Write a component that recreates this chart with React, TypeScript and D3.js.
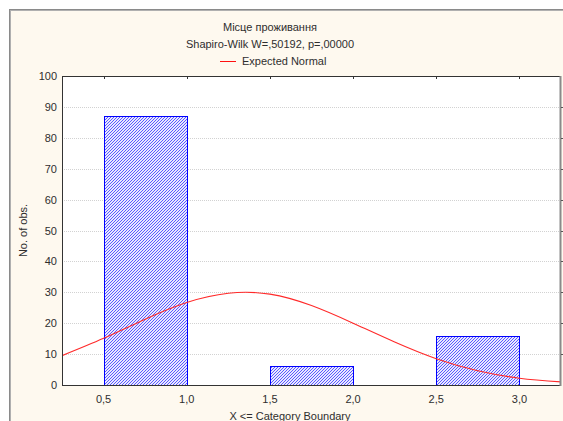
import React from "react";
import * as d3 from "d3";

// Histogram categories: lower and upper boundary of each bar, and counts
const binStart = [0.5, 1.5, 2.5];
const binEnd = [1.0, 2.0, 3.0];
const counts = [87, 6, 16];

// Expected normal curve, sampled along the x axis
const curveX = [0.25, 0.5, 0.75, 1.0, 1.25, 1.5, 1.75, 2.0, 2.25, 2.5, 2.75, 3.0, 3.25];
const curveY = [9.5, 15.1, 21.3, 26.7, 29.7, 29.4, 25.7, 20.0, 13.9, 8.5, 4.6, 2.2, 1.0];

const xTicks = [0.5, 1.0, 1.5, 2.0, 2.5, 3.0];
const yTicks = [0, 10, 20, 30, 40, 50, 60, 70, 80, 90, 100];

const title = "Місце проживання";
const subtitle = "Shapiro-Wilk W=,50192, p=,00000";
const legendLabel = "Expected Normal";
const xLabel = "X <= Category Boundary";
const yLabel = "No. of obs.";

const W = 563;
const H = 421;
const plot = { left: 62, right: 561, top: 76, bottom: 385 };
const font = "'Liberation Sans', Arial, sans-serif";
const textColor = "#2e2e2e";

export default function App() {
  const x = d3.scaleLinear().domain([0.25, 3.25]).range([plot.left, plot.right]);
  const y = d3.scaleLinear().domain([0, 100]).range([plot.bottom, plot.top]);
  const fmt = (v: number) => v.toFixed(1).replace(".", ",");

  const line = d3
    .line<number>()
    .x((_, i) => x(curveX[i]))
    .y((d) => y(d))
    .curve(d3.curveNatural);

  return (
    <svg
      width={W}
      height={H}
      style={{ position: "absolute", left: 0, top: 0, display: "block" }}
      fontFamily={font}
    >
      <defs>
        {/* fine pixel hatch, one blue pixel per row stepping diagonally */}
        <pattern id="hatch" width="3" height="3" patternUnits="userSpaceOnUse">
          <rect width="3" height="3" fill="#e8e8ff" shapeRendering="crispEdges" />
          <rect x="2" y="0" width="1" height="1" fill="#5a5aff" shapeRendering="crispEdges" />
          <rect x="1" y="1" width="1" height="1" fill="#5a5aff" shapeRendering="crispEdges" />
          <rect x="0" y="2" width="1" height="1" fill="#5a5aff" shapeRendering="crispEdges" />
        </pattern>
        <clipPath id="plotClip">
          <rect x={plot.left} y={plot.top} width={plot.right - plot.left} height={plot.bottom - plot.top} />
        </clipPath>
      </defs>

      {/* window background and frame */}
      <rect x={0} y={0} width={W} height={H} fill="#ffffff" />
      <rect x={9} y={9} width={W - 9} height={H - 9} fill="#fef9ef" />
      <line x1={9} x2={W} y1={9.5} y2={9.5} stroke="#8a8a8a" strokeWidth={1} />
      <line x1={9} x2={W} y1={10.5} y2={10.5} stroke="#b0b0b0" strokeWidth={1} />
      <line x1={9.5} x2={9.5} y1={9} y2={H} stroke="#8a8a8a" strokeWidth={1} />
      <line x1={10.5} x2={10.5} y1={10} y2={H} stroke="#b0b0b0" strokeWidth={1} />

      {/* titles and legend */}
      <text x={270} y={31} textAnchor="middle" fontSize={11} fill={textColor}>{title}</text>
      <text x={270} y={48} textAnchor="middle" fontSize={11} fill={textColor}>{subtitle}</text>
      <line x1={220} x2={236} y1={61.5} y2={61.5} stroke="#ff1010" strokeWidth={1} shapeRendering="crispEdges" />
      <text x={242} y={65} fontSize={11} fill={textColor}>{legendLabel}</text>

      {/* plot area */}
      <rect x={plot.left} y={plot.top} width={plot.right - plot.left} height={plot.bottom - plot.top} fill="#ffffff" />

      {/* horizontal grid */}
      {yTicks.filter((t) => t > 0 && t < 100).map((t) => (
        <line
          key={"g" + t}
          x1={plot.left}
          x2={plot.right}
          y1={Math.round(y(t)) + 0.5}
          y2={Math.round(y(t)) + 0.5}
          stroke="#d2d2d2"
          strokeDasharray="1,1"
        />
      ))}

      {/* bars */}
      {counts.map((c, i) => (
        <rect
          key={"b" + i}
          x={Math.round(x(binStart[i])) + 0.5}
          y={Math.round(y(c)) + 0.5}
          width={Math.round(x(binEnd[i])) - Math.round(x(binStart[i]))}
          height={Math.round(y(0)) - Math.round(y(c))}
          fill="url(#hatch)"
          stroke="#0000ff"
          strokeWidth={1}
        />
      ))}

      {/* expected normal curve */}
      <path d={line(curveY) || ""} fill="none" stroke="#ff2a2a" strokeWidth={1.1} clipPath="url(#plotClip)" />

      {/* axes frame */}
      <line x1={plot.left} x2={plot.right} y1={plot.top + 0.5} y2={plot.top + 0.5} stroke="#333" />
      <line x1={plot.left} x2={plot.right} y1={plot.bottom + 0.5} y2={plot.bottom + 0.5} stroke="#333" />
      <line x1={plot.left + 0.5} x2={plot.left + 0.5} y1={plot.top} y2={plot.bottom + 1} stroke="#333" />
      <line x1={plot.right - 0.5} x2={plot.right - 0.5} y1={plot.top} y2={plot.bottom + 1} stroke="#8a8a8a" strokeWidth={2} />

      {/* top ticks */}
      {xTicks.map((t) => (
        <line key={"tt" + t} x1={Math.round(x(t)) + 0.5} x2={Math.round(x(t)) + 0.5} y1={plot.top} y2={plot.top + 3} stroke="#333" />
      ))}
      {/* right ticks */}
      {yTicks.filter((t) => t > 0 && t < 100).map((t) => (
        <line key={"rt" + t} x1={plot.right} x2={plot.right + 2} y1={Math.round(y(t)) + 0.5} y2={Math.round(y(t)) + 0.5} stroke="#555" />
      ))}

      {/* y tick labels */}
      {yTicks.map((t) => (
        <text key={"yl" + t} x={57} y={y(t) + 4} textAnchor="end" fontSize={11} fill={textColor}>{t}</text>
      ))}
      {/* x tick labels */}
      {xTicks.map((t) => (
        <text key={"xl" + t} x={x(t)} y={403} textAnchor="middle" fontSize={11} fill={textColor}>{fmt(t)}</text>
      ))}

      {/* axis titles */}
      <text x={290} y={420} textAnchor="middle" fontSize={11} fill={textColor}>{xLabel}</text>
      <text
        transform={`translate(27, ${(plot.top + plot.bottom) / 2}) rotate(-90)`}
        textAnchor="middle"
        fontSize={11}
        fill={textColor}
      >
        {yLabel}
      </text>
    </svg>
  );
}
